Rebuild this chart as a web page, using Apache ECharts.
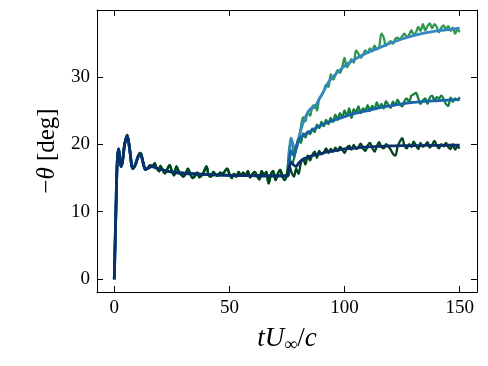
<!DOCTYPE html>
<html lang="en">
<head>
  <meta charset="UTF-8">
  <title>theta response</title>
  <script src="https://cdn.jsdelivr.net/npm/echarts@6/dist/echarts.min.js"></script>
</head>
<style>
  * {
    padding: 0px;
    margin: 0px;
  }
</style>
<body>
<div id="main" style="width:488px;height:366px;"></div>
</body>
</html>
<script>
  // shared start-up part (all three cases coincide before t = 75)
  var tEarlyNoisy = [0, 0.7, 1.3, 1.9, 2.5, 3.0, 3.6, 4.5, 5.6, 6.6, 7.5, 8.1,
    9.2, 10.4, 11.4, 12.5, 13.6, 14.6, 15.6, 16.5, 17.5, 18.5, 19.5,
    20, 21, 22, 23, 24, 25, 26, 27, 28, 29,
    30, 31, 32, 33, 34, 35, 36, 37, 38, 39,
    40, 41, 42, 43, 44, 45, 46, 47, 48, 49,
    50, 51, 52, 53, 54, 55, 56, 57, 58, 59,
    60, 61, 62, 63, 64, 65, 66, 67, 68, 69,
    70, 71, 72, 73, 74, 75];
  var earlyNoisy = [0, 10, 17.5, 19.3, 17.5, 16.7, 17.5, 20.0, 21.4, 19.5, 17.0, 16.4,
    17.0, 18.3, 18.7, 17.3, 16.2, 16.5, 16.9, 16.6, 17.2, 16.4, 16.0,
    16.8, 16.2, 15.7, 16.3, 16.9, 16.0, 15.4, 16.7, 16.0, 15.5,
    15.2, 15.6, 16.4, 15.6, 15.0, 15.3, 15.8, 15.1, 15.4, 16.0,
    16.7, 15.4, 15.2, 15.9, 15.5, 15.3, 15.8, 15.6, 16.0, 16.4,
    15.6, 15.0, 15.6, 15.2, 15.9, 15.3, 15.8, 15.4, 16.0, 15.1,
    15.6, 15.9, 15.3, 14.8, 16.0, 15.4, 15.9, 14.2, 15.5, 16.0,
    14.7, 15.6, 16.2, 15.2, 14.7, 15.6];

  var tEarlySmooth = [0, 0.7, 1.3, 1.9, 2.5, 3.0, 3.6, 4.5, 5.6, 6.6, 7.5, 8.1,
    9.2, 10.4, 11.4, 12.5, 13.6, 15, 16.5, 17.5, 19,
    21, 23, 25, 30, 35, 40, 50, 60, 70, 75];
  var earlySmooth = [0, 10, 17.5, 19.3, 17.5, 16.7, 17.5, 20.0, 21.2, 19.5, 17.0, 16.4,
    17.0, 18.2, 18.5, 17.3, 16.3, 16.5, 16.8, 16.6, 16.4,
    16.2, 16.0, 15.9, 15.7, 15.6, 15.5, 15.4, 15.35, 15.3, 15.3];

  // after t = 75 the three cases split
  var tLateNoisy = [76, 77, 78, 79, 80, 81, 82, 83, 84, 85,
    86, 87, 88, 89, 90, 91, 92, 93, 94, 95,
    96, 97, 98, 99, 100, 101, 102, 103, 104, 105,
    106, 107, 108, 109, 110, 111, 112, 113, 114, 115,
    116, 117, 118, 119, 120, 121, 122, 123, 124, 125,
    126, 127, 128, 129, 130, 131, 132, 133, 134, 135,
    136, 137, 138, 139, 140, 141, 142, 143, 144, 145,
    146, 147, 148, 149, 150];
  var highNoisy = [19.5, 20.2, 18.8, 19.8, 20.5, 22.5, 24.0, 23.4, 24.8, 24.2,
    25.6, 25.8, 25.0, 26.8, 27.2, 27.9, 28.8, 28.5, 30.4, 29.6,
    30.2, 31.0, 30.6, 31.5, 32.8, 31.4, 31.9, 32.6, 32.1, 33.9,
    33.4, 32.8, 33.2, 33.9, 33.5, 34.2, 33.8, 34.6, 34.1, 34.4,
    36.4, 35.8, 34.6, 35.0, 35.3, 34.9, 35.6, 35.8, 35.5, 36.0,
    36.4, 35.9, 36.2, 36.9, 36.3, 36.6, 37.4, 36.8, 37.8, 36.9,
    37.5, 37.9, 37.2, 37.8, 37.4, 36.6, 37.3, 37.6, 37.0, 37.5,
    36.8, 37.3, 36.4, 37.0, 36.6];
  var midNoisy = [18.0, 17.2, 17.8, 19.6, 20.8, 20.2, 21.6, 21.0, 21.9, 21.5,
    22.3, 21.8, 22.9, 22.4, 23.3, 22.7, 23.6, 23.0, 23.9, 23.3,
    24.4, 23.6, 24.6, 24.0, 25.0, 24.2, 25.3, 23.9, 25.2, 24.8,
    25.6, 24.6, 25.3, 25.0, 25.8, 24.9, 25.7, 25.2, 26.2, 25.4,
    26.0, 25.3, 26.4, 25.8, 25.4, 26.3, 25.8, 26.6, 26.0, 25.6,
    26.4, 26.8, 26.2, 27.2, 27.4, 27.6, 26.8, 26.0, 26.5, 26.8,
    26.0, 26.9, 27.2, 26.5, 27.0, 26.8, 27.2, 26.7, 26.0, 25.7,
    26.9, 26.3, 26.8, 26.5, 27.0];
  var lowNoisy = [16.8, 15.8, 15.2, 16.4, 15.6, 17.2, 17.8, 17.0, 18.3, 17.6,
    18.4, 18.9, 18.0, 19.0, 18.5, 18.8, 19.4, 18.7, 19.3, 18.9,
    19.5, 19.0, 19.6, 19.2, 18.7, 19.5, 19.8, 19.2, 19.9, 19.3,
    19.6, 20.1, 19.4, 19.0, 19.8, 20.2, 19.5, 18.9, 19.7, 20.3,
    19.6, 19.4, 20.0, 19.7, 19.2, 18.6, 18.3, 19.6, 20.4, 20.9,
    19.8, 19.4, 20.0, 19.6, 20.4, 19.8, 19.3, 20.2, 19.6, 19.9,
    20.3, 19.5, 19.9, 20.5, 19.8, 19.4, 20.0, 19.7, 20.2, 19.6,
    19.3, 20.0, 19.2, 19.6, 19.4];

  var tLateSmooth = [75.5, 76.8, 78, 79, 80, 82, 83.5, 85, 87, 88.5, 90.5, 93, 95,
    100, 105, 110, 115, 120, 125, 130, 135, 140, 145, 150];
  var highSmooth = [15.4, 20.9, 19.6, 19.4, 20.8, 23.2, 24.4, 25.2, 25.5, 26.4, 27.6, 29.2, 30.0,
    31.6, 32.7, 33.6, 34.3, 35.0, 35.6, 36.1, 36.5, 36.8, 37.0, 37.2];
  var midSmooth = [15.4, 19.0, 18.3, 19.4, 20.6, 21.3, 21.6, 21.9, 22.3, 22.6, 22.9, 23.3, 23.5,
    24.1, 24.6, 25.0, 25.4, 25.7, 26.0, 26.2, 26.35, 26.45, 26.55, 26.65];
  var lowSmooth = [15.4, 17.3, 16.9, 16.7, 17.2, 17.8, 18.0, 18.2, 18.4, 18.5, 18.7, 18.9, 19.0,
    19.3, 19.45, 19.6, 19.7, 19.75, 19.8, 19.8, 19.82, 19.84, 19.85, 19.85];

  var xTicks = [0, 50, 100, 150];
  var yTicks = [0, 10, 20, 30];

  window.onload = function () {
    var chart = echarts.init(document.getElementById('main'));
    var font = 'Liberation Serif';

    function pairs(ts, vs) {
      var out = [];
      for (var i = 0; i < ts.length; i++) {
        out.push([ts[i], vs[i]]);
      }
      return out;
    }

    function line(name, data, color, width) {
      return {
        name: name,
        type: 'line',
        data: data,
        showSymbol: false,
        smooth: 0.35,
        lineStyle: {color: color, width: width},
        itemStyle: {color: color}
      };
    }

    var noisyEarly = pairs(tEarlyNoisy, earlyNoisy);
    var smoothEarly = pairs(tEarlySmooth, earlySmooth);

    // each case = shared start + its own tail; darkest case drawn last
    var series = [
      line('high raw', noisyEarly.concat(pairs(tLateNoisy, highNoisy)), '#2f984f', 2.3),
      line('high fit', smoothEarly.concat(pairs(tLateSmooth, highSmooth)), '#3787c0', 2.8),
      line('mid raw', noisyEarly.concat(pairs(tLateNoisy, midNoisy)), '#157f3b', 2.3),
      line('mid fit', smoothEarly.concat(pairs(tLateSmooth, midSmooth)), '#1764ab', 2.8),
      line('low raw', noisyEarly.concat(pairs(tLateNoisy, lowNoisy)), '#00441b', 2.3),
      line('low fit', smoothEarly.concat(pairs(tLateSmooth, lowSmooth)), '#08306b', 2.8)
    ];

    var axisLine = {show: true, onZero: false, lineStyle: {color: '#000', width: 1}};
    var tick = {inside: true, length: 6, lineStyle: {color: '#000', width: 1}};

    chart.setOption({
      backgroundColor: '#fff',
      animation: false,
      grid: {left: 97, right: 11, top: 10, bottom: 74},
      xAxis: [
        {
          type: 'value',
          min: -7.5,
          max: 157.5,
          axisLine: axisLine,
          axisTick: Object.assign({customValues: xTicks}, tick),
          axisLabel: {customValues: xTicks, color: '#000', fontFamily: font, fontSize: 19, margin: 7},
          splitLine: {show: false},
          name: '{i|tU}{s|∞}{n|/}{i|c}',
          nameLocation: 'middle',
          nameGap: 32,
          nameTextStyle: {
            rich: {
              i: {fontFamily: font, fontStyle: 'italic', fontSize: 27, color: '#000', lineHeight: 30, verticalAlign: 'middle'},
              n: {fontFamily: font, fontSize: 27, color: '#000', lineHeight: 30, verticalAlign: 'middle'},
              s: {fontFamily: font, fontSize: 18, color: '#000', lineHeight: 18, verticalAlign: 'bottom'}
            }
          }
        },
        {
          type: 'value',
          position: 'top',
          min: -7.5,
          max: 157.5,
          axisLine: axisLine,
          axisTick: Object.assign({customValues: xTicks}, tick),
          axisLabel: {show: false},
          splitLine: {show: false}
        }
      ],
      yAxis: [
        {
          type: 'value',
          min: -1.9,
          max: 39.9,
          axisLine: axisLine,
          axisTick: Object.assign({customValues: yTicks}, tick),
          axisLabel: {customValues: yTicks, color: '#000', fontFamily: font, fontSize: 19, margin: 7},
          splitLine: {show: false},
          name: '{n|−}{i|θ}{n| [deg]}',
          nameLocation: 'middle',
          nameRotate: 90,
          nameGap: 34,
          nameTextStyle: {
            rich: {
              i: {fontFamily: font, fontStyle: 'italic', fontSize: 25, color: '#000'},
              n: {fontFamily: font, fontSize: 25, color: '#000'}
            }
          }
        },
        {
          type: 'value',
          position: 'right',
          min: -1.9,
          max: 39.9,
          axisLine: axisLine,
          axisTick: Object.assign({customValues: yTicks}, tick),
          axisLabel: {show: false},
          splitLine: {show: false}
        }
      ],
      series: series
    });
  };
</script>
